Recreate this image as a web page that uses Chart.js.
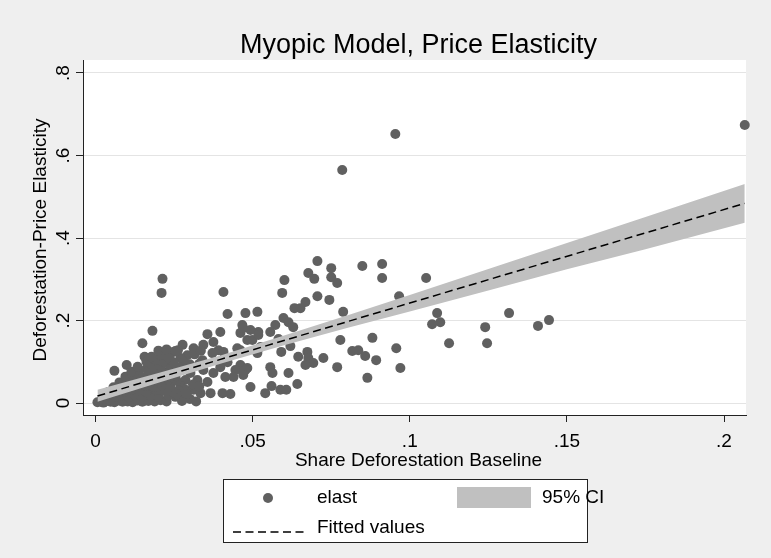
<!DOCTYPE html>
<html>
<head>
<meta charset="utf-8">
<script src="https://cdn.jsdelivr.net/npm/chart.js@4"></script>
<style>
  html, body { margin: 0; padding: 0; background: #efefef; }
  canvas { display: block; }
</style>
</head>
<body>
<canvas id="elastChart" width="771" height="558"></canvas>
<script>
// observations: [share deforestation baseline, elasticity]
const elastObs = [
  [.2066,.674],[.0954,.652],[.0785,.565],
  [.0213,.301],[.0210,.267],[.0407,.269],
  [.0706,.344],[.0750,.327],[.0677,.315],[.0696,.301],[.0601,.298],[.0750,.305],[.0769,.291],
  [.0594,.267],[.0706,.259],[.0744,.250],[.0668,.245],[.0652,.230],[.0633,.230],
  [.0515,.221],[.0788,.221],[.0598,.206],[.0614,.196],[.0629,.184],[.0572,.189],
  [.0556,.172],[.0518,.172],[.0582,.155],[.0620,.138],[.0591,.124],[.0525,.136],[.0515,.121],
  [.0779,.153],[.0674,.124],[.0645,.112],[.0677,.109],[.0693,.097],[.0668,.092],[.0725,.109],
  [.0769,.087],[.0556,.087],[.0563,.073],[.0614,.073],[.0642,.046],[.0560,.041],[.0588,.032],
  [.0607,.032],[.0540,.024],
  [.0849,.332],[.0912,.337],[.0912,.303],[.1052,.303],[.0966,.259],
  [.1087,.218],[.1071,.191],[.1097,.196],
  [.0881,.158],[.0817,.126],[.0836,.128],[.0858,.114],[.0893,.104],[.0957,.133],
  [.0970,.085],[.0865,.061],
  [.1125,.145],[.1240,.184],[.1246,.145],[.1316,.218],[.1408,.187],[.1443,.201],
  [.0420,.216],[.0477,.218],[.0467,.189],[.0397,.172],[.0356,.167],[.0493,.177],[.0461,.170],
  [.0375,.148],[.0343,.141],[.0277,.141],[.0312,.133],[.0248,.124],[.0391,.128],[.0407,.124],
  [.0372,.121],[.0451,.133],[.0499,.153],[.0292,.116],[.0270,.109],[.0340,.104],[.0420,.099],
  [.0238,.104],[.0461,.092],[.0397,.087],[.0445,.080],[.0483,.085],[.0343,.080],[.0302,.073],
  [.0375,.073],[.0248,.068],[.0286,.056],[.0413,.063],[.0439,.063],[.0470,.075],[.0324,.056],
  [.0356,.051],[.0238,.048],[.0270,.041],[.0286,.032],[.0366,.024],[.0404,.024],[.0429,.022],
  [.0493,.039],[.0312,.032],[.0334,.024],[.0254,.015],[.0280,.015],
  [.0181,.175],[.0149,.145],[.0156,.112],[.0099,.092],[.0060,.078],[.0223,.119],[.0197,.092],
  [.0165,.085],
  [.0470,.182],[.0518,.165],[.0483,.153],[.0461,.128],[.0477,.080],[.0470,.068],
  [.0275,.005],[.0300,.010],[.0320,.004],[.0290,.022],[.0310,.045],[.0330,.040],[.0265,.030],
  [.0285,.082],[.0300,.094],[.0330,.095],[.0280,.100],[.0315,.118],[.0335,.127],[.0262,.128],
  // dense cluster near the origin
  [.0006,.002],[.0016,.004],[.0025,.001],[.0035,.005],[.0048,.003],[.0060,.002],[.0073,.006],
  [.0086,.003],[.0102,.004],[.0118,.002],[.0134,.006],[.0149,.003],[.0168,.005],[.0188,.004],
  [.0207,.007],[.0226,.004],
  [.0029,.015],[.0045,.019],[.0064,.016],[.0083,.018],[.0105,.014],[.0124,.019],[.0146,.016],
  [.0175,.018],[.0200,.015],[.0232,.019],[.0258,.021],
  [.0041,.027],[.0067,.031],[.0092,.028],[.0114,.032],[.0140,.029],[.0162,.027],[.0191,.031],
  [.0216,.030],[.0245,.028],
  [.0057,.038],[.0079,.043],[.0108,.040],[.0134,.044],[.0159,.041],[.0184,.039],[.0210,.043],
  [.0238,.040],
  [.0076,.050],[.0102,.055],[.0127,.052],[.0153,.056],[.0181,.053],[.0207,.051],[.0232,.057],
  [.0258,.054],
  [.0095,.064],[.0121,.067],[.0146,.063],[.0175,.068],[.0200,.066],[.0226,.062],[.0254,.065],
  [.0114,.076],[.0140,.080],[.0168,.077],[.0194,.081],[.0219,.075],[.0245,.079],
  [.0134,.088],[.0181,.092],[.0207,.089],[.0235,.093],[.0264,.087],
  [.0162,.100],[.0191,.104],[.0216,.101],[.0248,.098],
  [.0178,.112],[.0207,.116],[.0232,.111],
  [.0200,.127],[.0226,.130],[.0254,.126]
];

// fitted values (end points of the line)
const fitX = [0.0006, 0.2066];
const fitY = [0.017, 0.484];

// 95% CI band
const ciX    = [0.0006, 0.02, 0.04, 0.06, 0.08, 0.10, 0.125, 0.15, 0.175, 0.2066];
const ciLow  = [0.003, 0.049, 0.096, 0.140, 0.182, 0.222, 0.273, 0.324, 0.373, 0.437];
const ciHigh = [0.032, 0.073, 0.116, 0.164, 0.212, 0.262, 0.325, 0.388, 0.451, 0.531];

const xTicks = [0, 0.05, 0.1, 0.15, 0.2];
const xTickLabels = ['0', '.05', '.1', '.15', '.2'];
const yTicks = [0, 0.2, 0.4, 0.6, 0.8];
const yTickLabels = ['0', '.2', '.4', '.6', '.8'];

const FONT = '"Liberation Sans", Arial, sans-serif';
const MARKER = '#606060';
const BAND = '#c0c0c0';

// background, titles, rotated y labels and the legend box
const stataFrame = {
  id: 'stataFrame',
  beforeDraw(chart) {
    const { ctx, chartArea: a } = chart;
    ctx.save();
    ctx.fillStyle = '#efefef';
    ctx.fillRect(0, 0, chart.width, chart.height);
    ctx.fillStyle = '#ffffff';
    ctx.fillRect(a.left, a.top, a.right - a.left, a.bottom - a.top);
    ctx.restore();
  },
  afterDraw(chart) {
    const { ctx, chartArea: a } = chart;
    const ys = chart.scales.y;
    const cx = (a.left + a.right) / 2 + 4;
    ctx.save();
    ctx.fillStyle = '#000';
    ctx.textAlign = 'center';
    ctx.textBaseline = 'alphabetic';

    ctx.font = '27px ' + FONT;
    ctx.fillText('Myopic Model, Price Elasticity', cx, 53);

    ctx.font = '19px ' + FONT;
    ctx.fillText('Share Deforestation Baseline', cx, 466);

    ctx.save();
    ctx.translate(46, 240);
    ctx.rotate(-Math.PI / 2);
    ctx.fillText('Deforestation-Price Elasticity', 0, 0);
    ctx.restore();

    yTicks.forEach((v, i) => {
      ctx.save();
      ctx.translate(69, ys.getPixelForValue(v));
      ctx.rotate(-Math.PI / 2);
      ctx.fillText(yTickLabels[i], 0, 0);
      ctx.restore();
    });

    // legend
    ctx.fillStyle = '#ffffff';
    ctx.fillRect(223, 479, 364, 63);
    ctx.strokeStyle = '#222';
    ctx.lineWidth = 1;
    ctx.strokeRect(223.5, 479.5, 364, 63);

    ctx.fillStyle = MARKER;
    ctx.beginPath();
    ctx.arc(268, 498, 5, 0, Math.PI * 2);
    ctx.fill();

    ctx.fillStyle = BAND;
    ctx.fillRect(457, 487, 74, 21);

    ctx.strokeStyle = '#000';
    ctx.lineWidth = 1.5;
    ctx.setLineDash([8, 4.5]);
    ctx.beginPath();
    ctx.moveTo(233, 532);
    ctx.lineTo(306, 532);
    ctx.stroke();
    ctx.setLineDash([]);

    ctx.fillStyle = '#000';
    ctx.textAlign = 'left';
    ctx.fillText('elast', 317, 503);
    ctx.fillText('95% CI', 542, 503);
    ctx.fillText('Fitted values', 317, 533);
    ctx.restore();
  }
};

const ctx = document.getElementById('elastChart').getContext('2d');
const elastChart = new Chart(ctx, {
  type: 'scatter',
  data: {
    datasets: [
      {
        label: 'Fitted values',
        type: 'line',
        data: fitX.map((x, i) => ({ x: x, y: fitY[i] })),
        borderColor: '#000',
        borderWidth: 1.5,
        borderDash: [8, 4.5],
        pointRadius: 0,
        fill: false,
        order: 0
      },
      {
        label: 'ci low',
        type: 'line',
        data: ciX.map((x, i) => ({ x: x, y: ciLow[i] })),
        borderWidth: 0,
        borderColor: 'rgba(0,0,0,0)',
        pointRadius: 0,
        fill: false,
        order: 1
      },
      {
        label: '95% CI',
        type: 'line',
        data: ciX.map((x, i) => ({ x: x, y: ciHigh[i] })),
        borderWidth: 0,
        borderColor: 'rgba(0,0,0,0)',
        backgroundColor: BAND,
        pointRadius: 0,
        fill: '-1',
        order: 1
      },
      {
        label: 'elast',
        data: elastObs.map(p => ({ x: p[0], y: p[1] })),
        backgroundColor: MARKER,
        borderWidth: 0,
        pointRadius: 5,
        clip: false,
        order: 2
      }
    ]
  },
  options: {
    responsive: false,
    animation: false,
    layout: { padding: { top: 60, right: 25, left: 0, bottom: 0 } },
    plugins: {
      legend: { display: false },
      tooltip: { enabled: false },
      title: { display: false }
    },
    scales: {
      x: {
        type: 'linear',
        min: -0.004,
        max: 0.207,
        afterBuildTicks: s => { s.ticks = xTicks.map(v => ({ value: v })); },
        afterFit: s => { s.height = 143; },
        ticks: {
          font: { family: FONT, size: 19 },
          color: '#000',
          padding: 8,
          maxRotation: 0,
          autoSkip: false,
          callback: (v, i) => xTickLabels[i]
        },
        grid: { drawOnChartArea: false, tickLength: 7, tickColor: '#222', tickWidth: 1 },
        border: { color: '#222', width: 1 }
      },
      y: {
        type: 'linear',
        min: -0.029,
        max: 0.8315,
        afterBuildTicks: s => { s.ticks = yTicks.map(v => ({ value: v })); },
        afterFit: s => { s.width = 83; },
        ticks: { display: false },
        grid: { color: '#e4e4e4', lineWidth: 1, tickLength: 7, tickColor: '#222', tickWidth: 1 },
        border: { color: '#222', width: 1 }
      }
    }
  },
  plugins: [stataFrame]
});
</script>
</body>
</html>
